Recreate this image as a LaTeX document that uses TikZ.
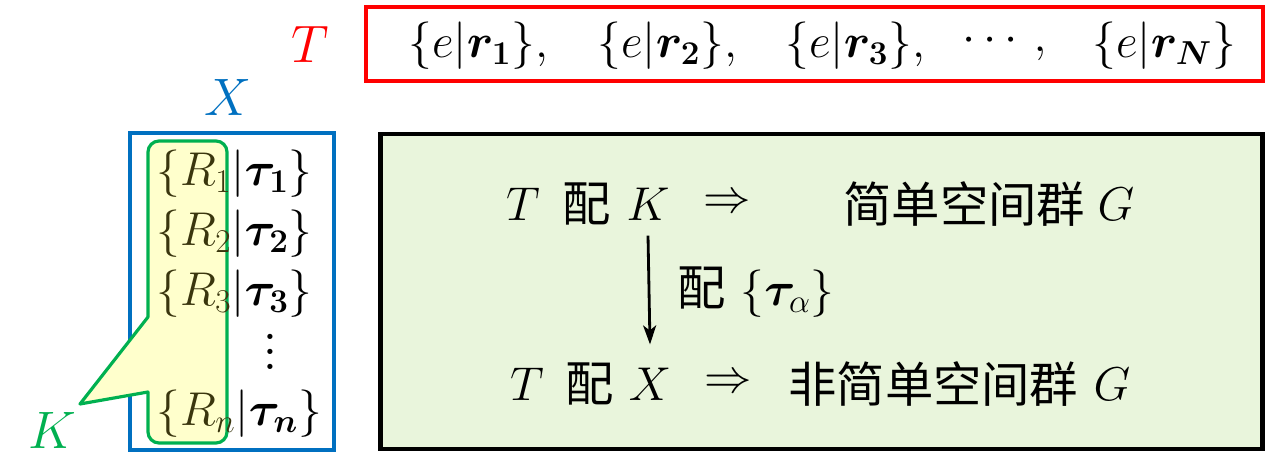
\RequirePackage{fix-cm}
\documentclass[tikz,border=0pt]{standalone}
\usepackage{amsmath}
\usepackage{bm}
\usepackage{fontspec}
\newfontfamily\cjk{Noto Sans CJK SC}
\usetikzlibrary{arrows.meta}
\definecolor{myred}{RGB}{255,0,0}
\definecolor{myblue}{RGB}{0,112,192}
\definecolor{mygreen}{RGB}{0,176,80}
\definecolor{myyellow}{RGB}{255,255,204}
\definecolor{boxgreen}{RGB}{233,245,220}
\definecolor{olivetext}{RGB}{58,54,14}
\tikzset{
  txt/.style={inner sep=0pt, font=\fontsize{27}{32}\selectfont},
  bigl/.style={inner sep=0pt, font=\fontsize{30}{36}\selectfont},
  cjktxt/.style={inner sep=0pt, font=\fontsize{27.5}{32}\selectfont\cjk},
  boxshape/.style={rectangle, inner sep=0pt, outer sep=0pt},
  arr/.style={line width=1.6pt, -{Stealth[length=0.38cm,width=0.26cm,inset=0.1cm]}}
}
\begin{document}
\begin{tikzpicture}[x=0.02cm,y=-0.02cm]
\useasboundingbox (0,0) rectangle (1266,472);

% red T box
\node[boxshape, draw=myred, line width=2.3pt, minimum width=17.94cm, minimum height=1.48cm] (tbox) at (814.5,44) {};
\node[bigl, text=myred] (Tlab) at (310,44) {$T$};
\node[txt, anchor=west] (r1) at (408,46) {$\{e|\bm{r_1}\},$};
\node[txt, anchor=west] (r2) at (597,46) {$\{e|\bm{r_2}\},$};
\node[txt, anchor=west] (r3) at (785,46) {$\{e|\bm{r_3}\},$};
\node[txt, anchor=west] (rd) at (962,46) {$\cdots\,,$};
\node[txt, anchor=west] (rN) at (1092,46) {$\{e|\bm{r_N}\}$};

% blue X box
\node[boxshape, draw=myblue, line width=1.8pt, minimum width=4.08cm, minimum height=6.34cm] (xbox) at (232,291.5) {};
\node[bigl, text=myblue] (Xlab) at (228,97) {$X$};

% green callout K
\filldraw[draw=mygreen, fill=myyellow, line width=1.8pt, line join=round]
  (80,404) -- (148,317) [rounded corners=0.22cm] -- (148,141) -- (227,141) -- (227,443) -- (148,443) [sharp corners] -- (148,392) -- cycle;
\node[bigl, text=mygreen] (Klab) at (52,430) {$K$};

% rows
\node[txt, anchor=west] (row1) at (156,174) {$\textcolor{olivetext}{\{R_1}|\bm{\tau_1}\}$};
\node[txt, anchor=west] (row2) at (156,234) {$\textcolor{olivetext}{\{R_2}|\bm{\tau_2}\}$};
\node[txt, anchor=west] (row3) at (156,294) {$\textcolor{olivetext}{\{R_3}|\bm{\tau_3}\}$};
\node[inner sep=0pt, font=\fontsize{36}{40}\selectfont] (rowd) at (270,352) {\vbox{\baselineskip=8.6pt\lineskiplimit=0pt\lineskip=0pt\hbox{.}\hbox{.}\hbox{.}}};
\node[txt, anchor=west] (rown) at (156,414) {$\textcolor{olivetext}{\{R_n}|\bm{\tau_n}\}$};

% black box
\node[boxshape, draw=black, fill=boxgreen, line width=2.8pt, minimum width=17.66cm, minimum height=6.3cm] (gbox) at (821.5,291.5) {};

% row 1
\node[txt] (t1) at (523,204) {$T$};
\node[cjktxt] (p1) at (587,204) {配};
\node[txt] (k1) at (648,204) {$K$};
\node[txt] (i1) at (727,204) {$\Rightarrow$};
\node[cjktxt, anchor=west] (s1) at (843,204) {简单空间群};
\node[txt] (g1) at (1116,204) {$G$};

% row 2
\node[txt] (t2) at (527,384) {$T$};
\node[cjktxt] (p2) at (590,384) {配};
\node[txt] (x2) at (650,384) {$X$};
\node[txt] (i2) at (728,384) {$\Rightarrow$};
\node[cjktxt, anchor=west] (s2) at (788,384) {非简单空间群};
\node[txt] (g2) at (1112,384) {$G$};

% arrow
\draw[arr] ([yshift=-0.3cm]k1.south) -- ([yshift=0.46cm]x2.north);
\node[anchor=west, inner sep=0pt] (lab) at (677,292) {{\fontsize{27.5}{32}\selectfont\cjk 配}\hspace{0.3cm}{\fontsize{27}{32}\selectfont$\{\bm{\tau}_{\alpha}\}$}};
\end{tikzpicture}
\end{document}
